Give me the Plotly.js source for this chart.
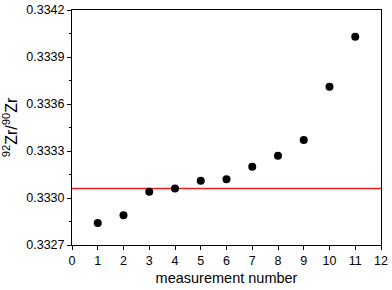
<!DOCTYPE html>
<html><head><meta charset="utf-8">
<script src="https://cdn.plot.ly/plotly-3.0.1.min.js"></script>
<style>html,body{margin:0;padding:0;background:#fff}</style>
</head><body><div id="c" style="width:392px;height:290px"></div>
<script>
var measurement = [1,2,3,4,5,6,7,8,9,10,11];
var ratio = [0.33284,0.33289,0.33304,0.33306,0.33311,0.33312,0.33320,0.33327,0.33337,0.33371,0.33403];
var refX = [0,12];
var refY = [0.33306,0.33306];
var data = [
 {x: refX, y: refY, mode:'lines', line:{color:'#ee1c1c', width:1.5}, hoverinfo:'skip'},
 {x: measurement, y: ratio, mode:'markers', marker:{color:'#000', size:8, symbol:'circle'}}
];
var layout = {
 width:392, height:290, showlegend:false,
 margin:{l:72, r:11, t:10, b:45},
 paper_bgcolor:'#fff', plot_bgcolor:'#fff',
 font:{family:'Liberation Sans, Arial, sans-serif', color:'#000', size:12},
 xaxis:{range:[0,12], dtick:1, tick0:0, ticks:'outside', ticklen:4, tickwidth:1, tickcolor:'#000',
   showline:true, linecolor:'#000', linewidth:1, mirror:true, showgrid:false, zeroline:false,
   tickfont:{size:12.5}, title:{text:'measurement number', font:{size:14.5}, standoff:5}},
 yaxis:{range:[0.3327,0.3342], dtick:0.0003, tick0:0.3327, tickformat:'.4f', ticks:'outside', ticklen:4, tickwidth:1, tickcolor:'#000',
   minor:{dtick:0.00015, ticks:'outside', ticklen:2, tickcolor:'#000', showgrid:false},
   showline:true, linecolor:'#000', linewidth:1, mirror:true, showgrid:false, zeroline:false,
   tickfont:{size:12.5}, title:{text:'<sup>92</sup>Zr/<sup>90</sup>Zr', font:{size:16}, standoff:4}}
};
Plotly.newPlot('c', data, layout, {staticPlot:true});
</script></body></html>
